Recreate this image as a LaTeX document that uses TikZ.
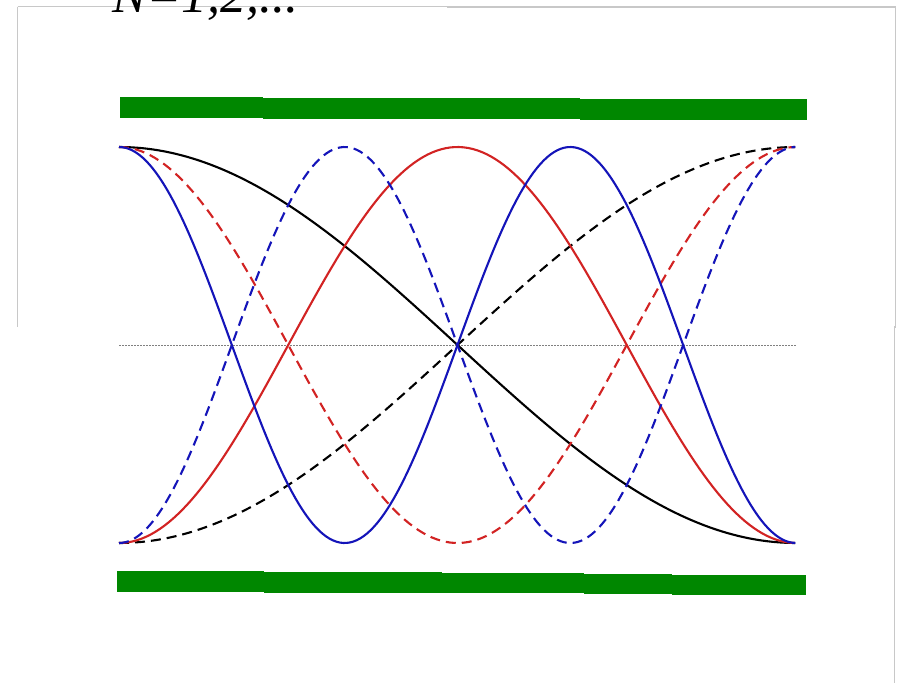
\documentclass[tikz,border=0pt]{standalone}
\usepackage{fontspec}
\setmainfont{Liberation Serif}
\definecolor{barg}{RGB}{0,135,0}
\definecolor{cblue}{RGB}{20,20,185}
\definecolor{cred}{RGB}{210,35,35}
\definecolor{frameg}{RGB}{200,200,200}
\begin{document}
\begin{tikzpicture}[x=1pt,y=-1pt,
  curve/.style={line width=2.1pt},
  dsh/.style={dash pattern=on 10pt off 6pt},
  bar/.style={fill=barg,draw=none},
  framel/.style={draw=frameg,line width=1.2pt}]
\clip (0,0) rectangle (900,683);
\fill[white] (0,0) rectangle (900,683);
% frame
\draw[framel] (17.5,6.5) -- (448,6.5) -- (448,7) -- (895.5,7) -- (895.5,327) -- (894.5,327) -- (894.5,683);
\draw[framel] (17.5,6.5) -- (17.5,327);
% title
\node[anchor=base west,inner sep=0pt,font=\fontsize{52}{52}\selectfont\itshape] (title) at (112,12) {N=1,2,...};
% green bars
\fill[bar] (120,97) rectangle (263,117.5);
\fill[bar] (263,98) rectangle (580,118.5);
\fill[bar] (580,99) rectangle (807,119.5);
\fill[bar] (117,571) rectangle (264,591.5);
\fill[bar] (264,572) rectangle (442,592.5);
\fill[bar] (442,572.5) rectangle (584,593);
\fill[bar] (584,573.5) rectangle (672,594);
\fill[bar] (672,574.5) rectangle (806,595);
% dotted axis
\draw[gray,line width=1pt,dash pattern=on 1.5pt off 1.5pt] (119,345) -- (797,345);
% curves
\draw[curve,black] plot[domain=0:1,samples=120] ({119+677*\x},{345-198*cos(180*\x)});
\draw[curve,black,dsh] plot[domain=0:1,samples=120] ({119+677*\x},{345+198*cos(180*\x)});
\draw[curve,cred] plot[domain=0:1,samples=150] ({119+677*\x},{345+198*cos(360*\x)});
\draw[curve,cred,dsh] plot[domain=0:1,samples=150] ({119+677*\x},{345-198*cos(360*\x)});
\draw[curve,cblue] plot[domain=0:1,samples=200] ({119+677*\x},{345-198*cos(540*\x)});
\draw[curve,cblue,dsh] plot[domain=0:1,samples=200] ({119+677*\x},{345+198*cos(540*\x)});
\end{tikzpicture}
\end{document}
